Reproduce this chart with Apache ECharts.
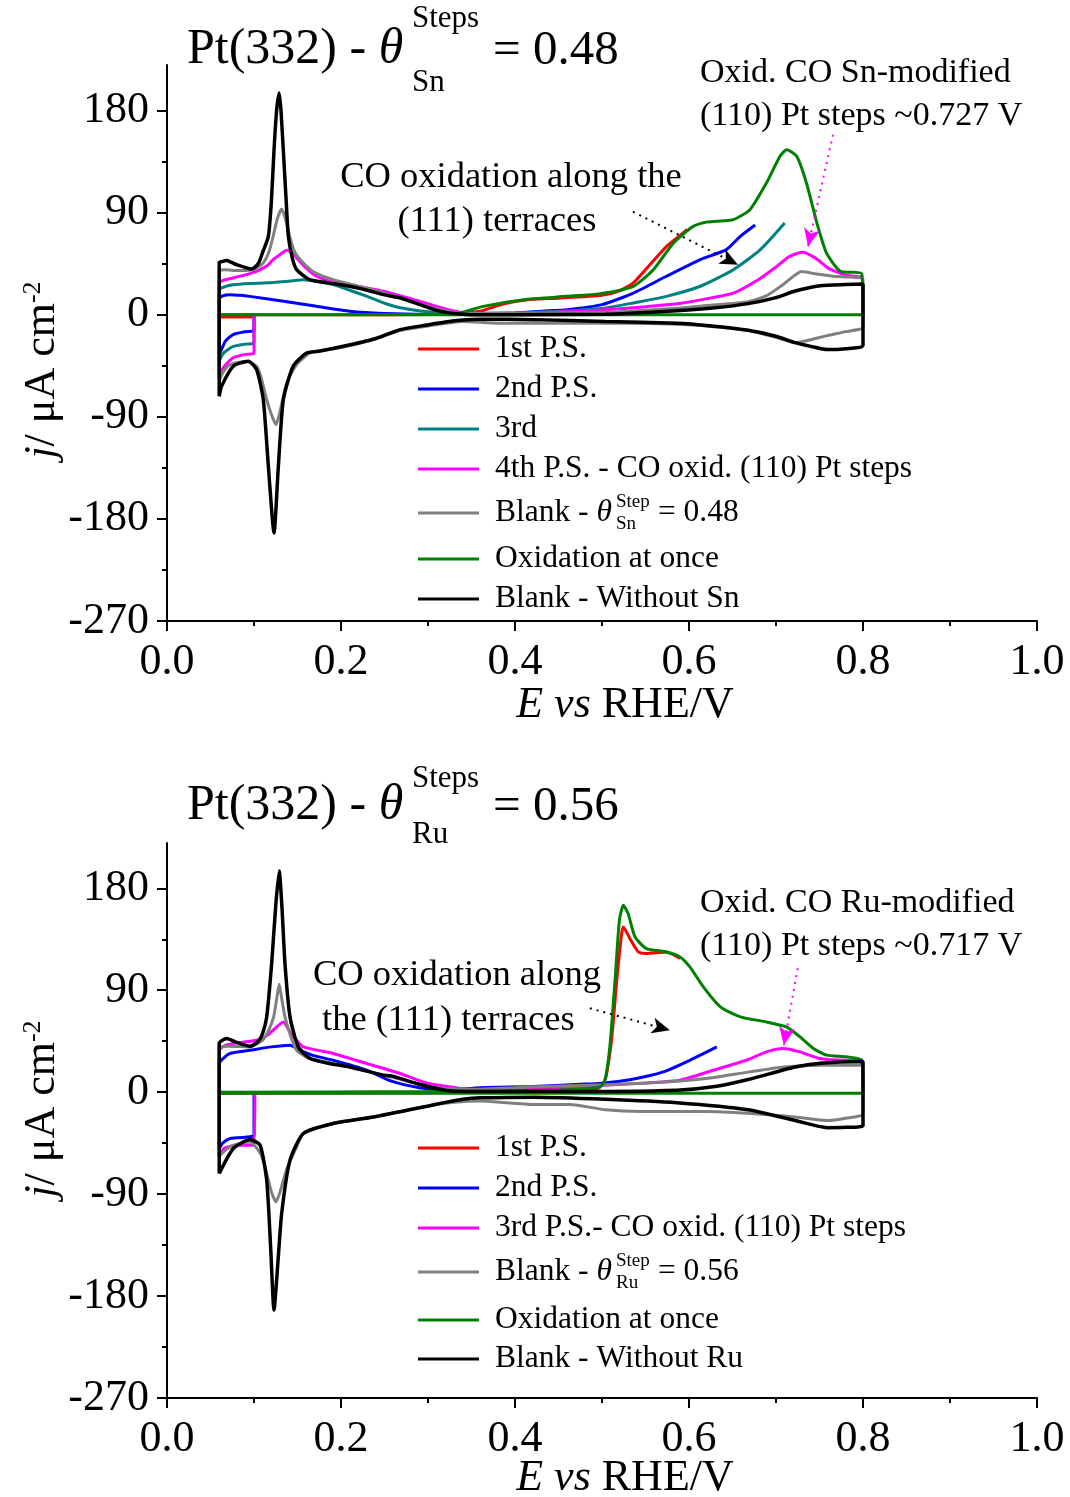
<!DOCTYPE html>
<html>
<head>
<meta charset="utf-8">
<title>Pt(332) stepwise CO oxidation</title>
<script src="https://cdn.jsdelivr.net/npm/echarts@6/dist/echarts.min.js"></script>
<style>
html, body { margin: 0; padding: 0; background: #fff; }
#chart { width: 1070px; height: 1497px; }
</style>
</head>
<body>
<div id="chart"></div>
<script>
var FONT = "'Liberation Serif', 'Times New Roman', serif";

// axis ticks
var xTicks = [0, 0.2, 0.4, 0.6, 0.8, 1.0];
var yMajor = [-270, -180, -90, 0, 90, 180];
var yMinor = [-225, -135, -45, 45, 135];

// ---- top panel: Sn-modified steps, [E / V, j / uA cm-2] ----
var snRed = [[0.100, 0], [0.100, -2], [0.080, -2], [0.060, -2], [0.060, 0], [0.15, 0], [0.25, 0], [0.33, 0.5],
  [0.36, 3], [0.38, 8], [0.40, 11.5], [0.42, 13.5], [0.45, 14.5], [0.50, 17], [0.52, 21], [0.536, 28],
  [0.555, 44], [0.574, 60], [0.59, 70], [0.598, 75]];
var snBlue = [[0.100, 0], [0.100, -14], [0.090, -15], [0.076, -17.6], [0.067, -23.5], [0.061, -33.8], [0.060, -35],
  [0.060, 14], [0.064, 16.5], [0.072, 17.6], [0.085, 17], [0.095, 16.1], [0.134, 11.7], [0.172, 7.3], [0.21, 3],
  [0.249, 1], [0.30, 0.3], [0.35, 0.5], [0.40, 1.5], [0.43, 3], [0.46, 4.4], [0.50, 8.8], [0.536, 19],
  [0.574, 33.8], [0.613, 48.5], [0.643, 57.3], [0.659, 69], [0.676, 79]];
var snTeal = [[0.100, 0], [0.100, -25], [0.090, -26], [0.076, -28], [0.065, -33.8], [0.060, -41], [0.060, 22],
  [0.066, 24.5], [0.076, 26.4], [0.095, 27.5], [0.115, 28], [0.14, 29.5], [0.157, 30.8], [0.175, 29], [0.191, 26.4],
  [0.21, 21.5], [0.23, 16.1], [0.25, 10], [0.268, 6], [0.30, 2.5], [0.34, 1], [0.40, 1.5], [0.45, 3], [0.50, 5.5],
  [0.536, 10.3], [0.574, 16.1], [0.613, 25], [0.651, 39.6], [0.682, 57.3], [0.710, 80.8]];
var snMagenta = [[0.100, 0], [0.100, -34], [0.090, -35], [0.076, -38], [0.066, -45.5], [0.060, -53], [0.060, 28],
  [0.066, 30.5], [0.076, 32.3], [0.09, 35], [0.103, 38.2], [0.115, 43], [0.122, 48.5], [0.13, 53], [0.1375, 56.7],
  [0.143, 55], [0.149, 50], [0.16, 41], [0.172, 33.8], [0.19, 29], [0.21, 26.4], [0.249, 20.6], [0.28, 14],
  [0.32, 5], [0.348, 1], [0.40, 1.5], [0.463, 2.5], [0.50, 4], [0.55, 7], [0.586, 9.5], [0.613, 13], [0.651, 19],
  [0.68, 31], [0.70, 42], [0.715, 51], [0.73, 55], [0.745, 50], [0.76, 41], [0.78, 35], [0.80, 33]];
var snGray = [[0.060, -58], [0.060, 39], [0.066, 39.5], [0.076, 39], [0.09, 39], [0.10, 40], [0.11, 45], [0.117, 55],
  [0.122, 69], [0.127, 85], [0.1318, 93], [0.136, 85], [0.141, 69], [0.147, 55], [0.1567, 45.5], [0.17, 37],
  [0.191, 30.8], [0.22, 25], [0.249, 19.1], [0.28, 12], [0.31, 5], [0.34, 1.5], [0.40, 1], [0.45, 1.5], [0.504, 2],
  [0.55, 4], [0.586, 5.6], [0.62, 8], [0.668, 11.4], [0.69, 17], [0.709, 27], [0.7295, 38], [0.745, 36],
  [0.766, 33.8], [0.80, 30.8],
  [0.80, -11], [0.78, -15], [0.759, -18.5], [0.735, -23], [0.722, -24.7], [0.70, -20], [0.668, -14], [0.62, -10],
  [0.586, -8.5], [0.55, -7.8], [0.504, -7.6], [0.45, -7.6], [0.381, -7.6], [0.34, -6], [0.30, -10], [0.268, -14],
  [0.237, -22], [0.203, -28.5], [0.175, -32], [0.164, -33.8], [0.149, -44], [0.1376, -60], [0.13, -85],
  [0.1253, -97], [0.12, -88], [0.1146, -75], [0.108, -55], [0.103, -45.5], [0.0916, -41], [0.0724, -44],
  [0.065, -50], [0.060, -58]];
var snGreen = [[0.060, 0], [0.20, 0], [0.33, 0.5], [0.3636, 7.3], [0.41, 13.2], [0.459, 16.1], [0.498, 18.5],
  [0.536, 25], [0.559, 39.6], [0.582, 63], [0.605, 77.8], [0.62, 81.5], [0.632, 82.2], [0.651, 83.7], [0.67, 92.5],
  [0.689, 116], [0.7046, 139.5], [0.7123, 145.4], [0.7238, 139.5], [0.735, 116], [0.747, 80.8], [0.758, 54.4],
  [0.774, 38.2], [0.7985, 36.1], [0.80, 0], [0.060, 0]];
var snBlack = [[0.060, -72], [0.060, 45.8], [0.064, 47], [0.0686, 47.8], [0.08, 44], [0.0973, 40.2], [0.105, 45],
  [0.11, 55], [0.1165, 69], [0.12, 100], [0.123, 145], [0.126, 180], [0.129, 195.3], [0.131, 180], [0.1337, 145],
  [0.137, 100], [0.1395, 69], [0.144, 50], [0.149, 39.6], [0.164, 30.8], [0.185, 28], [0.21, 25], [0.23, 21.5],
  [0.249, 17.6], [0.268, 14.7], [0.29, 9], [0.311, 3.5], [0.33, 1], [0.348, 0], [0.40, 0], [0.504, 0.3],
  [0.586, 3.5], [0.63, 6], [0.668, 9.7], [0.70, 15], [0.722, 20.8], [0.751, 25.5], [0.78, 26.5], [0.80, 27],
  [0.80, -27], [0.78, -30], [0.759, -30.8], [0.74, -28], [0.722, -24.7], [0.70, -19], [0.668, -13.8], [0.62, -9.5],
  [0.586, -7.6], [0.504, -6], [0.422, -4.4], [0.36, -4], [0.34, -4.8], [0.32, -6.5], [0.299, -9.1], [0.268, -13.2],
  [0.237, -21.7], [0.2027, -27.9], [0.176, -32], [0.1605, -33.8], [0.145, -45.5], [0.1337, -75], [0.128, -133.6],
  [0.123, -192.4], [0.1165, -133.6], [0.1107, -75], [0.103, -48.5], [0.0935, -41], [0.0762, -45.5],
  [0.0628, -63], [0.060, -72]];

// ---- bottom panel: Ru-modified steps ----
var ruRed = [[0.100, 0], [0.100, -1], [0.060, -1], [0.30, -0.5], [0.45, 0.5], [0.49, 2], [0.497, 4], [0.503, 10],
  [0.5054, 16.5], [0.511, 45.9], [0.517, 98.9], [0.5226, 140], [0.5245, 145.9], [0.532, 135.7], [0.5418, 123.8],
  [0.551, 122.4], [0.574, 123.8], [0.5897, 118]];
var ruBlue = [[0.100, 0], [0.100, -38], [0.0954, -39.4], [0.0724, -40.9], [0.064, -45], [0.060, -50], [0.060, 25],
  [0.0724, 34.2], [0.0954, 37], [0.12, 40], [0.1414, 41.5], [0.153, 37], [0.17, 32], [0.191, 28.2], [0.2295, 19.4],
  [0.258, 9.7], [0.29, 4], [0.3195, 1.8], [0.36, 4], [0.42, 5], [0.4747, 7], [0.50, 8], [0.532, 11],
  [0.5705, 17.9], [0.601, 28.2], [0.632, 40]];
var ruMagenta = [[0.101, 0], [0.100, -46.8], [0.085, -46.8], [0.0724, -48], [0.065, -50], [0.060, -57], [0.060, 37],
  [0.066, 41], [0.0762, 43], [0.09, 44.5], [0.103, 45.9], [0.115, 50], [0.122, 54.7], [0.1337, 62], [0.14, 55],
  [0.1456, 48.8], [0.1567, 40], [0.191, 34.2], [0.2295, 25.3], [0.268, 16.5], [0.299, 7.9], [0.3606, 1.8],
  [0.463, 4], [0.513, 6.5], [0.551, 8.2], [0.5897, 10.6], [0.628, 19.4], [0.666, 28.2], [0.689, 35.6],
  [0.7085, 38.6], [0.7276, 35.6], [0.7506, 29.7], [0.781, 28.2], [0.80, 28.2]];
var ruGray = [[0.060, -57], [0.060, 40], [0.07, 40.5], [0.0954, 40], [0.11, 46], [0.117, 55], [0.1226, 66.5],
  [0.126, 82], [0.129, 95.3], [0.132, 82], [0.1356, 66.5], [0.142, 50], [0.149, 37], [0.1644, 29.7], [0.21, 22.3],
  [0.249, 15], [0.28, 9], [0.31, 4], [0.35, 2.5], [0.40, 4], [0.422, 4.9], [0.504, 6.5], [0.586, 9.7],
  [0.627, 12.8], [0.668, 17.7], [0.709, 22.2], [0.751, 23.8], [0.80, 23.8],
  [0.80, -19], [0.78, -23], [0.759, -25], [0.722, -21.9], [0.668, -18.6], [0.62, -17], [0.545, -17],
  [0.504, -15.5], [0.463, -10.9], [0.422, -10.9], [0.36, -7.7], [0.33, -9], [0.299, -12.4], [0.2375, -21.9],
  [0.191, -27.6], [0.1567, -36.5], [0.149, -48.3], [0.1376, -68], [0.13, -88], [0.1253, -96.8], [0.12, -88],
  [0.1146, -71.8], [0.108, -55], [0.0954, -43.9], [0.0762, -46.8], [0.066, -52], [0.060, -57]];
var ruGreen = [[0.060, 0], [0.30, 0.5], [0.45, 2], [0.4977, 4.7], [0.5034, 10.6], [0.509, 40], [0.515, 98.9],
  [0.52, 151.8], [0.5245, 165], [0.530, 157.7], [0.538, 137], [0.551, 126.8], [0.574, 123.8], [0.5897, 119.4],
  [0.601, 110.6], [0.6165, 92.9], [0.636, 75.3], [0.659, 66.5], [0.689, 62], [0.712, 57.6], [0.7276, 48.8],
  [0.743, 38.6], [0.758, 32.7], [0.781, 31.2], [0.7985, 28.2], [0.80, -1], [0.060, -1]];
var ruBlack = [[0.060, -71.8], [0.060, 43], [0.0686, 47.4], [0.08, 44], [0.0954, 40.6], [0.105, 45], [0.11, 52],
  [0.1146, 66.5], [0.1203, 113.6], [0.125, 165], [0.129, 195.3], [0.132, 165], [0.1356, 113.6], [0.1414, 66.5],
  [0.1509, 40], [0.1644, 29.7], [0.185, 25.5], [0.21, 22.3], [0.249, 15], [0.258, 14.4], [0.29, 7], [0.3195, 1.8],
  [0.35, 0.5], [0.45, 0.5], [0.586, 1.8], [0.63, 5], [0.668, 11.2], [0.722, 22.2], [0.751, 25.6], [0.798, 27],
  [0.80, 27],
  [0.80, -29.7], [0.78, -31], [0.759, -31.3], [0.722, -25], [0.668, -15.5], [0.586, -9.3], [0.504, -6.2],
  [0.422, -4.4], [0.36, -5], [0.34, -6.2], [0.32, -9], [0.299, -12.4], [0.2375, -21.9], [0.191, -27.6],
  [0.1567, -36.5], [0.1414, -60], [0.1318, -107], [0.1275, -150], [0.123, -192.4], [0.119, -135], [0.1146, -77.7],
  [0.107, -46.8], [0.0954, -41.8], [0.0762, -49.7], [0.060, -71.8]];

// arrows, [from, to] in data units
var snArrowTerr = [[0.5356, 90.7], [0.6563, 44]];
var snArrowStep = [[0.7655, 158.6], [0.7368, 59.9]];
var ruArrowTerr = [[0.486, 74.1], [0.578, 54.7]];
var ruArrowStep = [[0.725, 109.4], [0.709, 41.5]];

var C = { red: '#ff0000', blue: '#0000ff', teal: '#008080', magenta: '#ff00ff', gray: '#808080', green: '#008000', black: '#000000' };

var myChart = echarts.init(document.getElementById('chart'), null, { renderer: 'canvas' });

function xAx(gi) {
  return {
    type: 'value', gridIndex: gi, min: 0, max: 1, interval: 0.2,
    axisLine: { onZero: false, lineStyle: { color: '#000', width: 2 } },
    axisTick: { length: 10, lineStyle: { color: '#000', width: 2 } },
    minorTick: { show: true, splitNumber: 2, length: 5, lineStyle: { color: '#000', width: 2 } },
    splitLine: { show: false },
    axisLabel: { color: '#000', fontFamily: FONT, fontSize: 44, margin: 19,
      formatter: function (v) { return v.toFixed(1); } }
  };
}
function yAx(gi) {
  return {
    type: 'value', gridIndex: gi, position: 'left', min: -270, max: 220, interval: 90,
    axisLine: { onZero: false, lineStyle: { color: '#000', width: 2 } },
    axisTick: { length: 10, customValues: yMajor, lineStyle: { color: '#000', width: 2 } },
    splitLine: { show: false },
    axisLabel: { color: '#000', fontFamily: FONT, fontSize: 44, margin: 18, customValues: yMajor,
      formatter: function (v) { return v % 90 === 0 ? String(v) : ''; } }
  };
}
function yMinorAx(gi) {
  return {
    type: 'value', gridIndex: gi, position: 'left', min: -270, max: 220, interval: 45,
    axisLine: { show: false, onZero: false },
    axisTick: { length: 5, customValues: yMinor, lineStyle: { color: '#000', width: 2 } },
    axisLabel: { show: false },
    splitLine: { show: false }
  };
}

function line(name, data, color, gi, width, arrows) {
  var s = {
    name: name, type: 'line', xAxisIndex: gi, yAxisIndex: gi * 2, data: data,
    symbol: 'none', showSymbol: false, smooth: 0.2,
    color: color, itemStyle: { color: color },
    lineStyle: { color: color, width: width || 3 },
    emphasis: { disabled: true }, silent: true
  };
  if (arrows) {
    s.markLine = {
      silent: true, symbol: ['none', 'arrow'], symbolSize: [12, 18], label: { show: false },
      emphasis: { disabled: true },
      data: arrows.map(function (a) {
        return [{ coord: a.pts[0], lineStyle: { color: a.color, type: [2, 5], width: 2 } }, { coord: a.pts[1] }];
      })
    };
  }
  return s;
}

var legendRich = {
  n: { fontFamily: FONT, fontSize: 31.5, lineHeight: 30, color: '#000' },
  it: { fontFamily: FONT, fontSize: 31.5, lineHeight: 30, fontStyle: 'italic', color: '#000' },
  g: { width: 46, lineHeight: 30 }
};
function legendFmt(name) {
  if (name === 'blankSn') return '{n|Blank - }{it|θ}{g| }{n|= 0.48}';
  if (name === 'blankRu') return '{n|Blank - }{it|θ}{g| }{n|= 0.56}';
  return name;
}
function legend(names, top, gap) {
  return {
    data: names, orient: 'vertical', left: 418, top: top, itemGap: gap, padding: 0,
    itemWidth: 61, itemHeight: 3, icon: 'rect', selectedMode: false,
    formatter: legendFmt,
    textStyle: { fontFamily: FONT, fontSize: 31.5, lineHeight: 30, color: '#000', padding: [0, 0, 0, 11], rich: legendRich }
  };
}

function gtext(x, y, text, size, extra) {
  return {
    type: 'text', x: x, y: y, silent: true,
    style: Object.assign({ text: text, fontFamily: FONT, fontSize: size, fill: '#000', align: 'left', verticalAlign: 'middle' }, extra || {})
  };
}
var titleRich = {
  n: { fontFamily: FONT, fontSize: 50 },
  i: { fontFamily: FONT, fontSize: 50, fontStyle: 'italic' }
};
function yName(y) {
  return {
    type: 'text', x: 42, y: y, rotation: Math.PI / 2, silent: true,
    style: {
      text: '{i|j}{n|/ μA cm}{s|-2}', fill: '#000', align: 'center', verticalAlign: 'middle',
      rich: {
        i: { fontFamily: FONT, fontSize: 44, fontStyle: 'italic' },
        n: { fontFamily: FONT, fontSize: 44 },
        s: { fontFamily: FONT, fontSize: 26, verticalAlign: 'top' }
      }
    }
  };
}
function xName(y) {
  return gtext(625, y, '{i|E} {i|vs} {n|RHE/V}', 44, {
    align: 'center',
    rich: { i: { fontFamily: FONT, fontSize: 44, fontStyle: 'italic' }, n: { fontFamily: FONT, fontSize: 44 } }
  });
}

var graphics = [
  // top panel
  gtext(187, 50, '{n|Pt(332) - }{i|θ}', 50, { rich: titleRich }),
  gtext(412, 19, 'Steps', 31),
  gtext(412, 83, 'Sn', 31),
  gtext(493, 51, '= 0.48', 49),
  gtext(511, 177, 'CO oxidation along the', 36.5, { align: 'center' }),
  gtext(497, 221, '(111) terraces', 36.5, { align: 'center' }),
  gtext(700, 73, 'Oxid. CO Sn-modified', 34),
  gtext(700, 116, '(110) Pt steps ~0.727 V', 34),
  gtext(616, 502, 'Step', 19),
  gtext(616, 524, 'Sn', 19),
  yName(370),
  xName(705),
  // bottom panel
  gtext(187, 806, '{n|Pt(332) - }{i|θ}', 50, { rich: titleRich }),
  gtext(412, 779, 'Steps', 31),
  gtext(412, 835, 'Ru', 31),
  gtext(493, 807, '= 0.56', 49),
  gtext(313, 975, 'CO oxidation along', 36.5),
  gtext(322, 1020, 'the (111) terraces', 36.5),
  gtext(700, 903, 'Oxid. CO Ru-modified', 34),
  gtext(700, 946, '(110) Pt steps ~0.717 V', 34),
  gtext(616, 1261, 'Step', 19),
  gtext(616, 1283, 'Ru', 19),
  yName(1109),
  xName(1478)
];

var option = {
  backgroundColor: '#fff',
  animation: false,
  grid: [
    { left: 167, top: 65, width: 870, height: 556 },
    { left: 167, top: 843, width: 870, height: 555 }
  ],
  xAxis: [xAx(0), xAx(1)],
  yAxis: [yAx(0), yMinorAx(0), yAx(1), yMinorAx(1)],
  legend: [
    legend(['1st P.S.', '2nd P.S.', '3rd', '4th P.S. - CO oxid. (110) Pt steps'], 333, 8),
    legend(['blankSn'], 497, 8),
    legend(['Oxidation at once', 'Blank - Without Sn'], 543, 8),
    legend(['1st P.S.', '2nd P.S.', '3rd P.S.- CO oxid. (110) Pt steps'], 1132, 8),
    legend(['blankRu'], 1256, 8),
    legend(['Oxidation at once', 'Blank - Without Ru'], 1304, 7)
  ],
  graphic: graphics,
  series: [
    line('1st P.S.', snRed, C.red, 0),
    line('2nd P.S.', snBlue, C.blue, 0),
    line('3rd', snTeal, C.teal, 0),
    line('4th P.S. - CO oxid. (110) Pt steps', snMagenta, C.magenta, 0),
    line('blankSn', snGray, C.gray, 0),
    line('Oxidation at once', snGreen, C.green, 0, 3, [
      { pts: snArrowTerr, color: '#000' }, { pts: snArrowStep, color: C.magenta }]),
    line('Blank - Without Sn', snBlack, C.black, 0, 3.5),

    line('1st P.S.', ruRed, C.red, 1),
    line('2nd P.S.', ruBlue, C.blue, 1),
    line('3rd P.S.- CO oxid. (110) Pt steps', ruMagenta, C.magenta, 1),
    line('blankRu', ruGray, C.gray, 1),
    line('Oxidation at once', ruGreen, C.green, 1, 3, [
      { pts: ruArrowTerr, color: '#000' }, { pts: ruArrowStep, color: C.magenta }]),
    line('Blank - Without Ru', ruBlack, C.black, 1, 3.5)
  ]
};
myChart.setOption(option);
</script>
</body>
</html>
